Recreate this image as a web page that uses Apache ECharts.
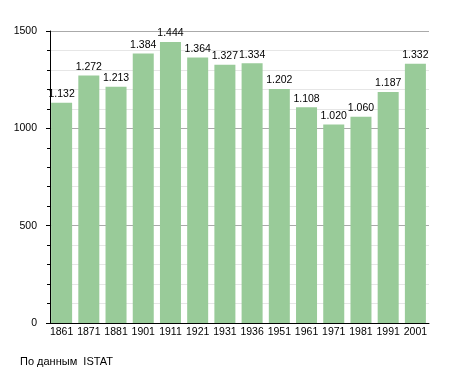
<!DOCTYPE html>
<html>
<head>
<meta charset="utf-8">
<script src="https://cdn.jsdelivr.net/npm/echarts@6/dist/echarts.min.js"></script>
<style>
html,body{margin:0;padding:0;background:#fff;}
#c{width:455px;height:373px;}
</style>
</head>
<body>
<div id="c"></div>
<script>
const categories = ['1861','1871','1881','1901','1911','1921','1931','1936','1951','1961','1971','1981','1991','2001'];
const population = [1132,1272,1213,1384,1444,1364,1327,1334,1202,1108,1020,1060,1187,1332];
const sourceNote = 'По данным  ISTAT';

const FONT = "'Liberation Sans', Arial, sans-serif";
function fmt(v){
  const s = String(v);
  return s.replace(/\B(?=(\d{3})+(?!\d))/g, '.');
}
const chart = echarts.init(document.getElementById('c'), null, {renderer:'canvas'});
chart.setOption({
  animation:false,
  backgroundColor:'#fff',
  grid:{left:48, right:26, top:31, bottom:50, containLabel:false},
  xAxis:{
    type:'category',
    data:categories,
    axisLine:{show:true, lineStyle:{color:'#000', width:1}},
    axisTick:{show:false},
    axisLabel:{color:'#000', fontSize:10.5, fontFamily:FONT, margin:4, interval:0},
    splitLine:{show:false}
  },
  yAxis:{
    type:'value',
    min:0, max:1500, interval:500,
    offset:-2,
    axisLine:{show:true, lineStyle:{color:'#000', width:1}},
    axisTick:{show:true, length:4, lineStyle:{color:'#000'}},
    minorTick:{show:true, splitNumber:5, length:3, lineStyle:{color:'#000'}},
    axisLabel:{color:'#000', fontSize:10.5, fontFamily:FONT, margin:13, formatter:v=>String(v)},
    splitLine:{show:true, lineStyle:{color:'#aaaaaa', width:1}},
    minorSplitLine:{show:true, lineStyle:{color:'#e6e6e6', width:1}}
  },
  series:[{
    type:'bar',
    data:population,
    barCategoryGap:'22.8%',
    itemStyle:{color:'#99cb99'},
    label:{
      show:true, position:'top', distance:3,
      color:'#000', fontSize:10.5, fontFamily:FONT,
      formatter:p=>fmt(p.value)
    }
  }],
  graphic:[{
    type:'text', left:20, top:356,
    style:{text:sourceNote, fill:'#000', font:"11px 'Liberation Sans', Arial, sans-serif"}
  }]
});
</script>
</body>
</html>
